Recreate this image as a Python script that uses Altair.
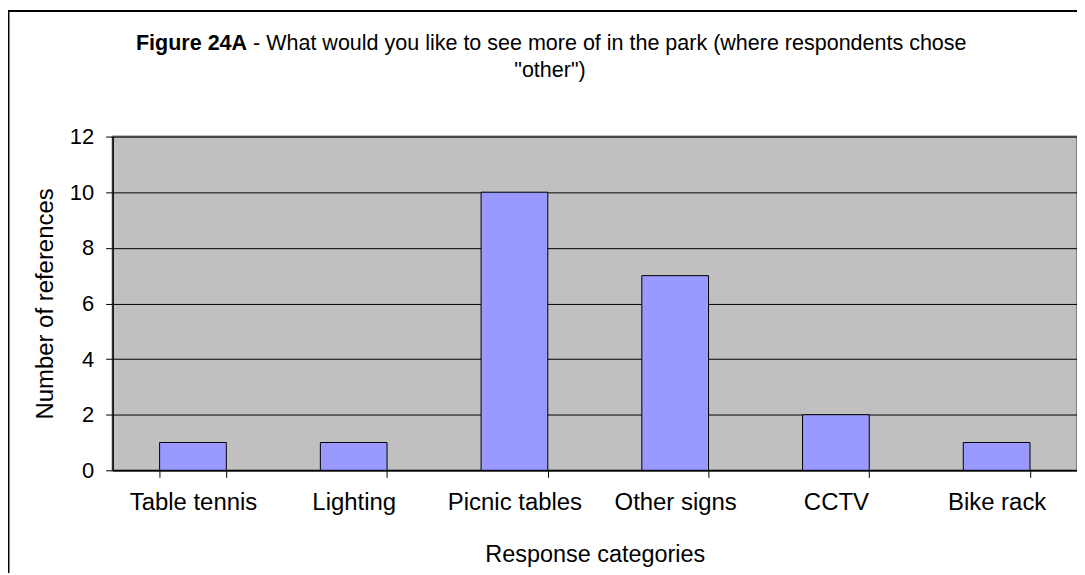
import altair as alt
import pandas as pd

categories = ["Table tennis", "Lighting", "Picnic tables", "Other signs", "CCTV", "Bike rack"]
counts = [1, 1, 10, 7, 2, 1]
y_ticks = [0, 2, 4, 6, 8, 10, 12]
title_bold = "Figure 24A"
title_rest = "- What would you like to see more of in the park (where respondents chose"
title_line2 = '"other")'

FONT = "Liberation Sans"
W, H = 968, 335

df = pd.DataFrame({"category": categories, "count": counts})

frame = alt.Chart(pd.DataFrame({"a": [0]})).mark_rect(
    filled=False, stroke="black", strokeWidth=2, clip=False
).encode(
    x=alt.value(-104.5), x2=alt.value(W + 40), y=alt.value(-126), y2=alt.value(H + 200)
)

bars = alt.Chart(df).mark_bar(
    color="#9999FF", stroke="black", strokeWidth=1
).encode(
    x=alt.X(
        "category:N",
        sort=categories,
        scale=alt.Scale(paddingInner=0.585, paddingOuter=0.2925),
        axis=alt.Axis(
            title="Response categories",
            labelAngle=0,
            tickBand="extent",
            grid=False,
            tickSize=7,
            labelPadding=13,
            labelFontSize=24,
            titleFontSize=23.5,
            titlePadding=29,
        ),
    ),
    y=alt.Y(
        "count:Q",
        scale=alt.Scale(domain=[0, 12], nice=False),
        axis=alt.Axis(
            title="Number of references",
            values=y_ticks,
            grid=True,
            gridColor="black",
            gridWidth=1,
            tickSize=7,
            labelPadding=12,
            labelFontSize=22,
            titleFontSize=24,
            titlePadding=12,
        ),
    ),
)

TFS = 21.6
t_bold = alt.Chart(pd.DataFrame({"t": [title_bold]})).mark_text(
    align="right", baseline="alphabetic", fontWeight="bold", fontSize=TFS, font=FONT, color="black"
).encode(text="t:N", x=alt.value(135), y=alt.value(-87))

t_rest = alt.Chart(pd.DataFrame({"t": [title_rest]})).mark_text(
    align="left", baseline="alphabetic", fontSize=TFS, font=FONT, color="black"
).encode(text="t:N", x=alt.value(141), y=alt.value(-87))

t_line2 = alt.Chart(pd.DataFrame({"t": [title_line2]})).mark_text(
    align="center", baseline="alphabetic", fontSize=TFS, font=FONT, color="black"
).encode(text="t:N", x=alt.value(439), y=alt.value(-60))

chart = alt.layer(frame, bars, t_bold, t_rest, t_line2).properties(
    width=W,
    height=H,
    autosize=alt.AutoSizeParams(type="none"),
    padding={"left": 105, "top": 128, "right": 0, "bottom": 102},
).configure_view(
    fill="#C0C0C0", stroke="#808080", strokeWidth=2
).configure_axis(
    labelFont=FONT, titleFont=FONT,
    labelColor="black", titleColor="black", titleFontWeight="normal",
    domainColor="black", tickColor="black", domainWidth=1.5, tickWidth=1,
)

chart.save("out.html", embed_options={"renderer": "svg", "actions": False})
